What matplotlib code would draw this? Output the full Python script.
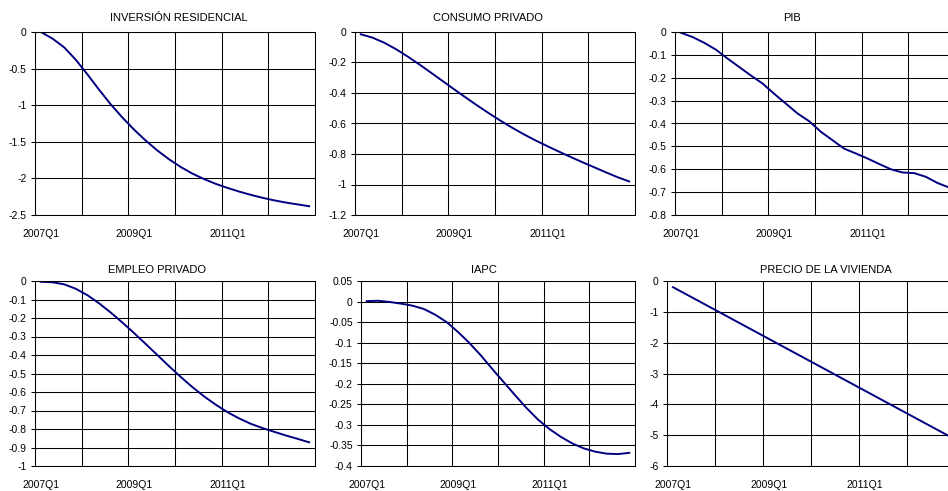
import matplotlib
matplotlib.use('Agg')
import matplotlib.pyplot as plt
from matplotlib.ticker import FuncFormatter
import numpy as np

plt.rcParams['font.family'] = ['Liberation Sans', 'DejaVu Sans']
plt.rcParams['axes.unicode_minus'] = False

# trimestres 2007Q1 - 2012Q4
trimestres = [f'{a}Q{q}' for a in range(2007, 2013) for q in range(1, 5)]
etiquetas = ['2007Q1', '2009Q1', '2011Q1']

inversion_residencial = [0.0, -0.09, -0.21, -0.38, -0.58, -0.79, -0.99, -1.17, -1.335, -1.485,
                         -1.62, -1.74, -1.845, -1.935, -2.01, -2.075, -2.13, -2.18, -2.225, -2.265,
                         -2.30, -2.33, -2.355, -2.38]
consumo_privado = [-0.015, -0.037, -0.07, -0.112, -0.16, -0.212, -0.266, -0.321, -0.376, -0.43,
                   -0.483, -0.534, -0.583, -0.629, -0.672, -0.712, -0.749, -0.785, -0.82, -0.854,
                   -0.887, -0.92, -0.952, -0.98]
pib = [-0.003, -0.022, -0.047, -0.077, -0.116, -0.153, -0.19, -0.225, -0.27, -0.313,
       -0.356, -0.39, -0.436, -0.473, -0.51, -0.531, -0.553, -0.577, -0.60, -0.614,
       -0.617, -0.633, -0.66, -0.68]
empleo_privado = [-0.004, -0.007, -0.018, -0.042, -0.077, -0.121, -0.171, -0.225, -0.282, -0.341,
                  -0.401, -0.461, -0.519, -0.574, -0.624, -0.669, -0.709, -0.743, -0.772, -0.795,
                  -0.815, -0.835, -0.853, -0.872]
iapc = [0.001, 0.002, -0.001, -0.005, -0.01, -0.018, -0.032, -0.05, -0.074, -0.101,
        -0.131, -0.164, -0.196, -0.228, -0.259, -0.287, -0.31, -0.329, -0.345, -0.357,
        -0.365, -0.37, -0.371, -0.368]
precio_vivienda = [-0.20, -0.41, -0.62, -0.83, -1.04, -1.25, -1.46, -1.67, -1.88, -2.09,
                   -2.30, -2.51, -2.72, -2.93, -3.14, -3.35, -3.56, -3.77, -3.98, -4.19,
                   -4.40, -4.61, -4.82, -5.03]

ancho, alto = 948, 491

# titulo, datos, (ymin, ymax, paso), caja en pixeles (x0, x1, y0, y1), centro del titulo
paneles = [
    ('INVERSIÓN RESIDENCIAL', inversion_residencial, (-2.5, 0, 0.5), (35, 315, 32, 215), (179, 18)),
    ('CONSUMO PRIVADO', consumo_privado, (-1.2, 0, 0.2), (355, 635, 32, 215), (488, 18)),
    ('PIB', pib, (-0.8, 0, 0.1), (675, 955, 32, 215), (792, 18)),
    ('EMPLEO PRIVADO', empleo_privado, (-1, 0, 0.1), (35, 315, 281, 466), (157, 270)),
    ('IAPC', iapc, (-0.4, 0.05, 0.05), (361, 635, 281, 466), (484, 270)),
    ('PRECIO DE LA VIVIENDA', precio_vivienda, (-6, 0, 1), (667, 955, 281, 466), (826, 270)),
]


def formato(v, p):
    v = round(v, 4)
    if abs(v) < 1e-9:
        return '0'
    return f'{v:g}'


fig = plt.figure(figsize=(ancho / 100, alto / 100), dpi=100)
x = np.arange(len(trimestres))

for titulo, datos, (ymin, ymax, paso), (x0, x1, y0, y1), (tx, ty) in paneles:
    ax = fig.add_axes([x0 / ancho, 1 - y1 / alto, (x1 - x0) / ancho, (y1 - y0) / alto])
    ax.plot(x, datos, color='#000080', lw=1.4)
    ax.set_xlim(-0.5, len(trimestres) - 0.5)
    ax.set_ylim(ymin, ymax)
    n = int(round((ymax - ymin) / paso))
    ax.set_yticks(np.linspace(ymin, ymax, n + 1))
    ax.yaxis.set_major_formatter(FuncFormatter(formato))
    ax.set_xticks([trimestres.index(e) for e in etiquetas], etiquetas)
    ax.set_xticks(np.arange(-0.5, len(trimestres), 4), minor=True)
    ax.set_axisbelow(True)
    ax.grid(axis='y', color='black', lw=0.75)
    ax.grid(axis='x', which='minor', color='black', lw=0.75)
    ax.tick_params(axis='x', which='both', length=0, pad=10, labelsize=7.5)
    ax.tick_params(axis='y', length=3, direction='out', pad=3, labelsize=7.5, width=0.75)
    for s in ax.spines.values():
        s.set_linewidth(0.75)
    fig.text(tx / ancho, 1 - ty / alto, titulo, ha='center', va='center', fontsize=8)

fig.savefig('out.png', dpi=100, facecolor='white')
